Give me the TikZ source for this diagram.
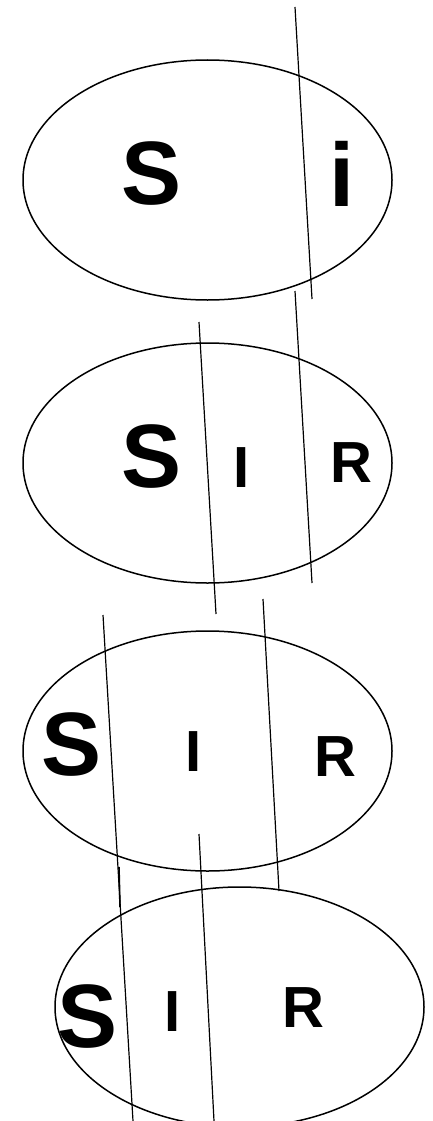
\documentclass[tikz,border=0pt]{standalone}
\usepackage{fontspec}
\setmainfont{Liberation Sans}
\begin{document}
\begin{tikzpicture}[x=1pt,y=-1pt,
  oval/.style={draw=black,line width=1.5pt},
  divider/.style={draw=black,line width=1.2pt},
  big/.style={inner sep=0pt,font=\fontsize{90}{90}\selectfont\bfseries},
  small/.style={inner sep=0pt,font=\fontsize{58}{58}\selectfont\bfseries}]
\useasboundingbox (0,0) rectangle (433,1121);
\clip (0,0) rectangle (433,1121);
% ovals
\coordinate (e1) at (207.5,180);
\coordinate (e2) at (207.5,463);
\coordinate (e3) at (207.5,751);
\coordinate (e4) at (239.5,1007);
\draw[oval] (e1) ellipse [x radius=184.5pt, y radius=120pt];
\draw[oval] (e2) ellipse [x radius=184.5pt, y radius=120pt];
\draw[oval] (e3) ellipse [x radius=184.5pt, y radius=120pt];
\draw[oval] (e4) ellipse [x radius=184.5pt, y radius=120pt];
% labels
\node[big] (s1) at (152,174) {S};
\node[big] (i1) at (342,174) {i};
\node[big] (s2) at (152,457) {S};
\node[small] (i2) at (242,468) {I};
\node[small] (r2) at (351,463) {R};
\node[big] (s3) at (72,745) {S};
\node[small] (i3) at (194,752) {I};
\node[small] (r3) at (335,757) {R};
\node[big] (s4) at (88,1017) {S};
\node[small] (i4) at (173,1012) {I};
\node[small] (r4) at (303,1008) {R};
% dividers
\coordinate (a1) at (295,7);   \coordinate (b1) at (312,299);
\coordinate (a2) at (295,291); \coordinate (b2) at (312,583);
\coordinate (a3) at (199,322); \coordinate (b3) at (216,614);
\coordinate (a4) at (103,615); \coordinate (b4) at (133,1121);
\coordinate (a5) at (263,599); \coordinate (b5) at (279,891);
\coordinate (a6) at (199,834); \coordinate (b6) at (214,1121);
\coordinate (a7) at (119,867); \coordinate (b7) at (120,907);
\draw[divider] (a1) -- (b1);
\draw[divider] (a2) -- (b2);
\draw[divider] (a3) -- (b3);
\draw[divider] (a4) -- (b4);
\draw[divider] (a5) -- (b5);
\draw[divider] (a6) -- (b6);
\draw[divider,line width=1.6pt] (a7) -- (b7);
\end{tikzpicture}
\end{document}
